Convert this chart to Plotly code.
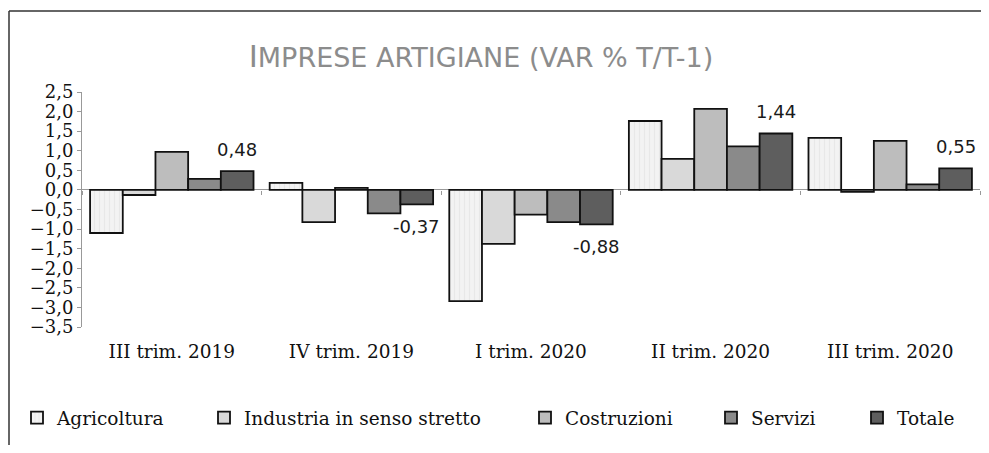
import plotly.graph_objects as go

categories = ["III trim. 2019", "IV trim. 2019", "I trim. 2020", "II trim. 2020", "III trim. 2020"]
agricoltura = [-1.10, 0.18, -2.84, 1.76, 1.33]
industria = [-0.13, -0.82, -1.38, 0.79, -0.05]
costruzioni = [0.97, 0.05, -0.63, 2.07, 1.25]
servizi = [0.28, -0.60, -0.82, 1.11, 0.14]
totale = [0.48, -0.37, -0.88, 1.44, 0.55]
series_names = ["Agricoltura", "Industria in senso stretto", "Costruzioni", "Servizi", "Totale"]
y_ticks = [2.5, 2.0, 1.5, 1.0, 0.5, 0.0, -0.5, -1.0, -1.5, -2.0, -2.5, -3.0, -3.5]

# page is 989x453 but the html body has an 8px margin
OFF = 8
W, H = 989 - 2 * OFF, 453 - 2 * OFF
ML = 82 - OFF
MT = 92 - OFF
PLOT_R = 980 - OFF
PLOT_B = 327 - OFF
MR = W - PLOT_R
MB = H - PLOT_B
PW = W - ML - MR
PH = H - MT - MB
YMIN, YMAX = -3.5, 2.5
BARGAP = 0.09

colors = ["#f3f3f3", "#d9d9d9", "#bdbdbd", "#8a8a8a", "#5e5e5e"]
series = [agricoltura, industria, costruzioni, servizi, totale]
legend_text_x = [57 - OFF, 244 - OFF, 565 - OFF, 751 - OFF, 897 - OFF]

fig = go.Figure()
for k, (name, vals, col) in enumerate(zip(series_names, series, colors)):
    marker = dict(color=col, line=dict(color="#111111", width=1.8))
    if k == 0:
        marker["pattern"] = dict(shape="|", fgcolor="#dedede", bgcolor=col, size=5, solidity=0.25)
    lg = "legend" if k == 0 else f"legend{k+1}"
    fig.add_trace(go.Bar(x=categories, y=vals, name=name, marker=marker, legend=lg))

# helper for boundary ticks on the zero line
fig.add_trace(go.Scatter(x=list(range(len(categories))), y=[0] * len(categories), xaxis="x2",
                         mode="markers", marker=dict(opacity=0), showlegend=False, hoverinfo="skip"))

def fmt(v):
    return f"{v:.2f}".replace(".", ",")

bw = (1 - BARGAP) / len(series)
for i, v in enumerate(totale):
    fig.add_annotation(x=i + 2 * bw, y=v, xref="x", yref="y", text=fmt(v), showarrow=False,
                       yshift=22 if v >= 0 else -22, yanchor="middle",
                       font=dict(family="DejaVu Sans", size=18, color="#1a1a1a"))

serif = "DejaVu Serif"
legend_y = (PH - (418 - OFF - MT)) / PH
layout_legends = {}
for k in range(len(series_names)):
    key = "legend" if k == 0 else f"legend{k+1}"
    layout_legends[key] = dict(x=(legend_text_x[k] - 40 - ML) / PW, y=legend_y, xanchor="left",
                               yanchor="middle", orientation="h", bgcolor="rgba(0,0,0,0)",
                               font=dict(family=serif, size=18.5, color="#111111"))

zero_pos = (0 - YMIN) / (YMAX - YMIN)
fig.update_layout(
    width=W, height=H, margin=dict(l=ML, r=MR, t=MT, b=MB, autoexpand=False),
    paper_bgcolor="white", plot_bgcolor="white",
    barmode="group", bargap=BARGAP, bargroupgap=0,
    separators=",.",
    title=dict(text="<span style='font-size:31px'>I</span>MPRESE ARTIGIANE (VAR % T/T-1)",
               x=(481 - OFF) / W, xanchor="center", y=1 - (58 - OFF) / H, yanchor="middle",
               font=dict(family="DejaVu Sans", size=27, color="#8c8c8c")),
    xaxis=dict(showline=False, ticks="", showgrid=False, zeroline=False,
               tickfont=dict(family=serif, size=18.5, color="#111111"), ticklabelstandoff=11),
    xaxis2=dict(overlaying="x", anchor="free", position=zero_pos, range=[-0.5, len(categories) - 0.5],
                tickvals=[i - 0.5 for i in range(len(categories) + 1)], ticks="outside", ticklen=4,
                tickcolor="#999999", showticklabels=False, showline=False, showgrid=False, zeroline=False),
    yaxis=dict(range=[YMIN, YMAX], tickvals=y_ticks, tickformat=".1f", ticks="outside", ticklen=4,
               tickcolor="#999999", showline=True, linecolor="#999999", linewidth=1, showgrid=False,
               zeroline=True, zerolinecolor="#999999", zerolinewidth=1,
               tickfont=dict(family=serif, size=18, color="#111111")),
    **layout_legends,
)

# outer frame (top and left edges)
fx0 = (9 - OFF - ML) / PW
fy_top = (PH + MT - (11 - OFF)) / PH
fig.add_shape(type="line", xref="paper", yref="paper", x0=fx0, x1=(W - ML) / PW, y0=fy_top, y1=fy_top,
              line=dict(color="#333333", width=1.5))
fig.add_shape(type="line", xref="paper", yref="paper", x0=fx0, x1=fx0, y0=fy_top, y1=-(MB) / PH,
              line=dict(color="#333333", width=1.5))

fig.write_html("out.html")
